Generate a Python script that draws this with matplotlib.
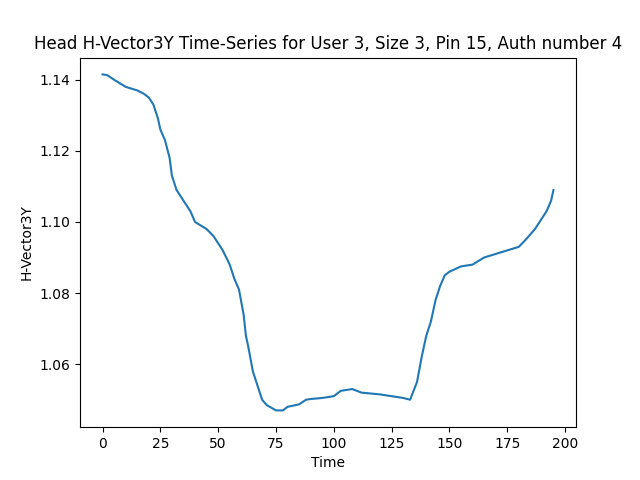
import matplotlib
matplotlib.use('Agg')
import matplotlib.pyplot as plt

time = [0, 2, 5, 10, 15, 18, 20, 22, 24, 25, 27, 29, 30, 32, 35, 38, 40, 45, 48, 50,
        52, 55, 57, 59, 61, 62, 63, 65, 67, 69, 71, 75, 78, 80, 85, 88, 90, 95, 100,
        103, 108, 112, 120, 125, 130, 133, 136, 138, 140, 142, 144, 146, 148, 150,
        155, 160, 165, 170, 175, 180, 183, 187, 190, 192, 194, 195]
hvec = [1.1415, 1.1413, 1.140, 1.138, 1.137, 1.136, 1.135, 1.133, 1.129, 1.126,
        1.123, 1.118, 1.113, 1.109, 1.106, 1.103, 1.100, 1.098, 1.096, 1.094,
        1.092, 1.088, 1.084, 1.081, 1.074, 1.068, 1.065, 1.058, 1.054, 1.050,
        1.0485, 1.047, 1.047, 1.048, 1.0487, 1.050, 1.0502, 1.0505, 1.051,
        1.0525, 1.053, 1.052, 1.0515, 1.051, 1.0505, 1.050, 1.055, 1.062, 1.068,
        1.072, 1.078, 1.082, 1.085, 1.086, 1.0875, 1.088, 1.090, 1.091, 1.092,
        1.093, 1.095, 1.098, 1.101, 1.103, 1.106, 1.109]

fig, ax = plt.subplots(figsize=(6.4, 4.8), dpi=100)
ax.plot(time, hvec)
ax.set_title('Head H-Vector3Y Time-Series for User 3, Size 3, Pin 15, Auth number 4')
ax.set_xlabel('Time')
ax.set_ylabel('H-Vector3Y')
fig.savefig('out.png')
